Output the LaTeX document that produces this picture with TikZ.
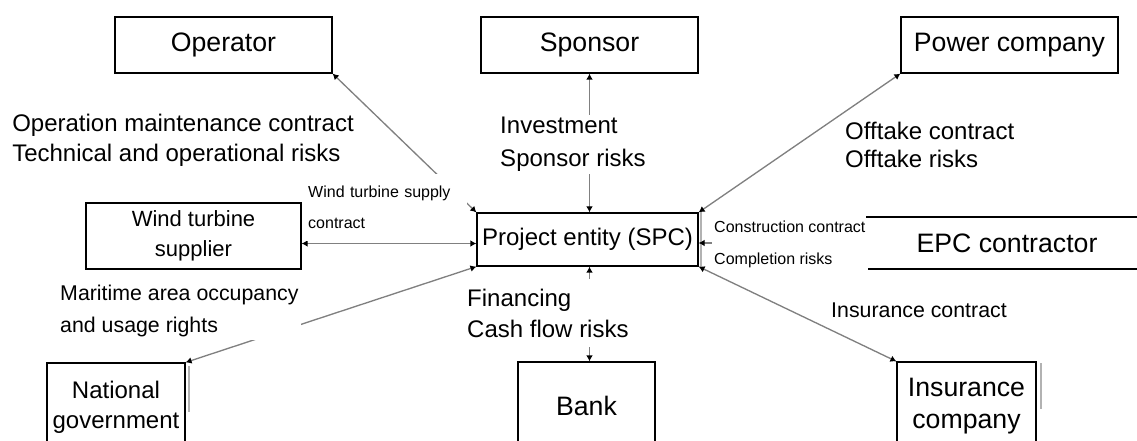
\documentclass[tikz,border=0pt]{standalone}
\usepackage{fontspec}
\setmainfont{Liberation Sans}
\usetikzlibrary{arrows.meta}

\begin{document}
\begin{tikzpicture}[x=0.75pt, y=-0.75pt,
  >={Latex[length=4.5pt, width=5pt, color=black]},
  party/.style={draw, line width=0.9pt, rectangle, align=center, inner sep=0pt, font=\fontsize{20}{24}\selectfont},
  rowbox/.style={party, minimum width=162.75pt, minimum height=42pt},
  lowbox/.style={party, minimum height=66pt},
  link/.style={<->, draw=gray, line width=1pt},
  shade/.style={draw=gray!60, line width=1.5pt},
  note/.style={fill=white, anchor=west, align=left, inner sep=2pt, font=\fontsize{18}{22.5}\selectfont},
  smallnote/.style={note, font=\fontsize{12}{23.25}\selectfont}]
\useasboundingbox (0,0) rectangle (1137,441);
\clip (0,0) rectangle (1137,441);

% parties
\node [rowbox] (op) at (223.5,45) {Operator};
\node [rowbox] (sp) at (589.5,45) {Sponsor};
\node [rowbox] (pc) at (1009.5,45) {Power company};
\node [party, minimum width=161.25pt, minimum height=49.5pt, font=\fontsize{16.5}{22.5}\selectfont] (wts) at (193.5,236) {Wind turbine\\supplier};
\node [party, minimum width=165.75pt, minimum height=39.75pt, font=\fontsize{18}{22}\selectfont] (spc) at (587.5,239.5) {Project entity (SPC)};
\node [party, minimum width=210pt, minimum height=39pt] (epc) at (1007,243) {EPC contractor};
\node [lowbox, minimum width=103.5pt, font=\fontsize{18}{22.5}\selectfont] (ng) at (116,407) {National\\government};
\node [lowbox, minimum width=102.75pt] (bank) at (586.5,406) {Bank};
\node [lowbox, minimum width=104.25pt] (ins) at (966.5,406) {Insurance\\company};

\draw [shade] ([xshift=1.5pt]spc.north east) -- ([xshift=1.5pt]spc.south east);
\draw [shade] ([xshift=2.25pt, yshift=-3pt]ng.north east) -- ++(0,46);
\draw [shade] ([xshift=3pt, yshift=-1.5pt]ins.north east) -- ++(0,46);

% contracts
\draw [link] (op.south east) -- (spc.north west);
\draw [link] (sp.south) -- (sp.south |- spc.north);
\draw [link] (pc.south west) -- (spc.north east);
\draw [link] ([yshift=-3pt]spc.west -| wts.east) -- ([yshift=-3pt]spc.west);
\draw [link, ->] (epc.west) -- (epc.west -| spc.east);
\draw [link] (ng.north east) -- (spc.south west);
\draw [link] (sp.south |- spc.south) -- (sp.south |- bank.north);
\draw [link] (ins.north west) -- (spc.south east);

% what each contract carries
\node [note, inner xsep=9pt] (omtext) at (0,140) {Operation maintenance contract\\Technical and operational risks};
\node [note, font=\fontsize{18}{24.75}\selectfont] (invtext) at (497.3,144.5) {Investment\\Sponsor risks};
\node [note, font=\fontsize{18}{21.5}\selectfont] (offtext) at (842.3,145) {Offtake contract\\Offtake risks};
\node [smallnote, text width=117pt, inner ysep=9pt] (supplytext) at (305.3,207.5) {Wind turbine supply\\contract};
\node [smallnote, font=\fontsize{12}{24}\selectfont] (epctext) at (711.3,244) {Construction contract\\Completion risks};
\node [note, font=\fontsize{16}{19}\selectfont] (instext) at (828.3,310) {Insurance contract};
\node [note, font=\fontsize{16}{24}\selectfont] (seatext) at (57.3,311) {Maritime area occupancy\\and usage rights};
\node [note, inner ysep=7pt, font=\fontsize{18}{23.25}\selectfont] (fintext) at (464.3,313) {Financing\\Cash flow risks};

\end{tikzpicture}
\end{document}
